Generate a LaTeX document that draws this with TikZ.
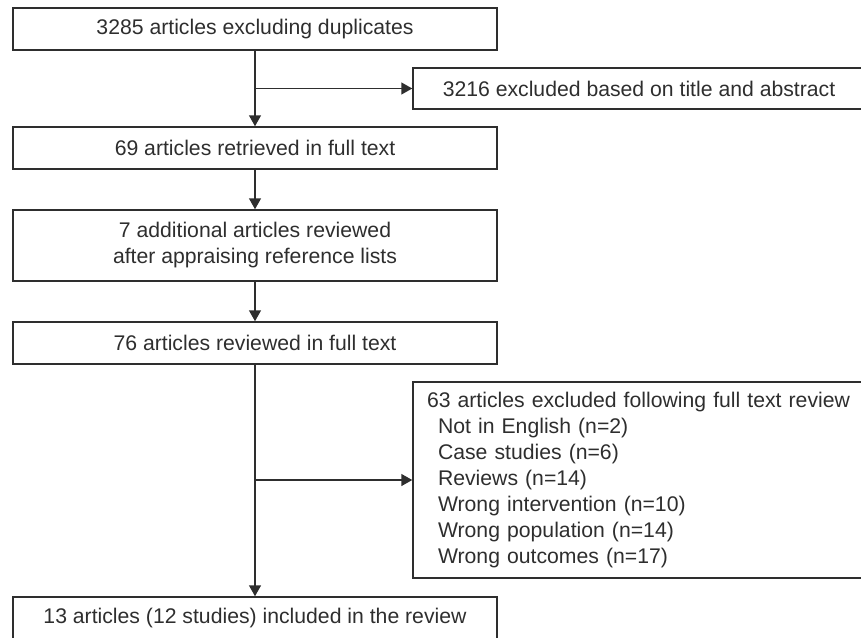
\documentclass[tikz,border=0pt]{standalone}
\usepackage{fontspec}
\setmainfont{Liberation Sans}
\usetikzlibrary{arrows.meta}
\definecolor{ink}{HTML}{2E2E2E}
\begin{document}
\begin{tikzpicture}[x=1pt,y=-1pt,
  every node/.style={font=\fontsize{21.2}{26}\selectfont, text=ink},
  flowbox/.style={draw=ink, line width=1.5pt, minimum width=484pt, minimum height=42pt, inner sep=0pt, align=center},
  sidebox/.style={draw=ink, line width=1.5pt, minimum width=452pt, inner sep=0pt},
  link/.style={draw=ink, line width=1.5pt, -{Triangle[length=11pt,width=12pt]}}]
\useasboundingbox (0,0) rectangle (861,637);
\node[flowbox] (b1) at (255,29) {3285 articles excluding duplicates};
\node[sidebox, minimum height=41pt] (b2) at (639,88.5) {3216 excluded based on title and abstract};
\node[flowbox] (b3) at (255,148) {69 articles retrieved in full text};
\node[flowbox, minimum height=71pt] (b4) at (255,245.5) {7 additional articles reviewed\\after appraising reference lists};
\node[flowbox] (b5) at (255,343) {76 articles reviewed in full text};
\node[sidebox, minimum height=196pt, text width=424pt, inner xsep=14pt, align=left] (b6) at (639,480)
  {63 articles excluded following full text review\\
   \hspace*{11pt}Not in English (n=2)\\
   \hspace*{11pt}Case studies (n=6)\\
   \hspace*{11pt}Reviews (n=14)\\
   \hspace*{11pt}Wrong intervention (n=10)\\
   \hspace*{11pt}Wrong population (n=14)\\
   \hspace*{11pt}Wrong outcomes (n=17)};
\node[flowbox] (b7) at (255,618) {13 articles (12 studies) included in the review};
\draw[link] (b1.south) -- (b3.north);
\draw[link] (b1.south |- b2.west) -- (b2.west);
\draw[link] (b3.south) -- (b4.north);
\draw[link] (b4.south) -- (b5.north);
\draw[link] (b5.south) -- (b7.north);
\draw[link] (b5.south |- b6.west) -- (b6.west);
\end{tikzpicture}
\end{document}
